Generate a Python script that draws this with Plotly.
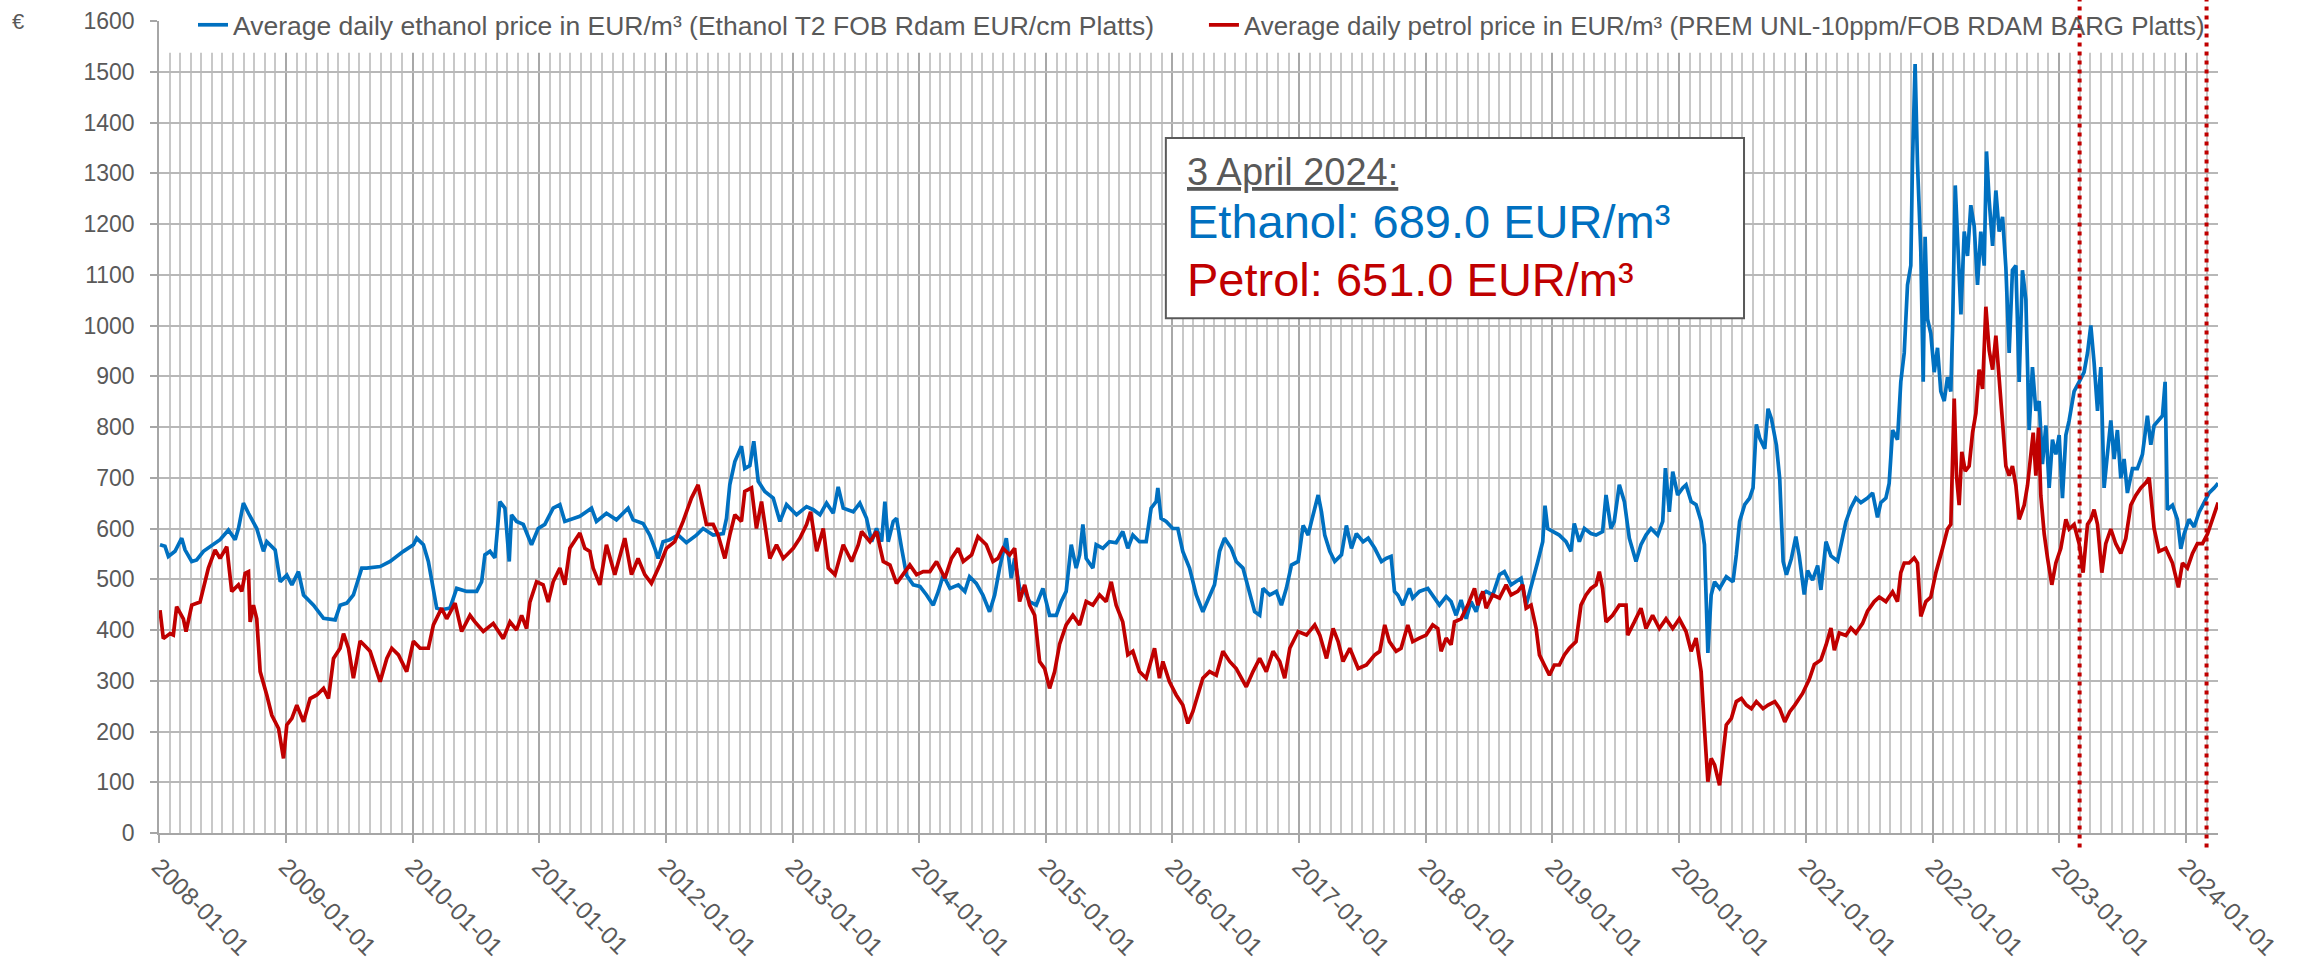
import pandas as pd
import plotly.graph_objects as go

# ---------------- data ----------------
# decimal years (e.g. 2021.862) and EUR/m3 values
eth_year = [
2008.008,2008.047,2008.074,2008.126,2008.179,2008.205,2008.258,2008.297,2008.350,2008.429,2008.481,2008.547,
2008.600,2008.626,2008.665,2008.705,2008.770,2008.823,2008.849,2008.915,2008.955,2009.007,2009.047,2009.099,
2009.139,2009.218,2009.297,2009.389,2009.428,2009.481,2009.533,2009.599,2009.638,2009.744,2009.823,2009.928,
2010.007,2010.033,2010.086,2010.125,2010.165,2010.191,2010.230,2010.296,2010.349,2010.428,2010.507,2010.546,
2010.572,2010.612,2010.651,2010.690,2010.730,2010.764,2010.782,2010.822,2010.875,2010.940,2010.993,2011.045,
2011.111,2011.164,2011.203,2011.269,2011.322,2011.414,2011.453,2011.532,2011.611,2011.703,2011.743,2011.821,
2011.874,2011.914,2011.940,2011.979,2012.032,2012.098,2012.163,2012.242,2012.295,2012.374,2012.453,2012.479,
2012.505,2012.545,2012.597,2012.623,2012.663,2012.694,2012.729,2012.781,2012.847,2012.900,2012.952,2013.031,
2013.110,2013.163,2013.216,2013.268,2013.321,2013.360,2013.400,2013.479,2013.531,2013.584,2013.624,2013.663,
2013.703,2013.729,2013.755,2013.795,2013.821,2013.861,2013.900,2013.953,2014.006,2014.058,2014.111,2014.151,
2014.190,2014.243,2014.309,2014.361,2014.398,2014.451,2014.503,2014.556,2014.596,2014.635,2014.688,2014.727,
2014.754,2014.793,2014.833,2014.872,2014.925,2014.977,2015.030,2015.083,2015.122,2015.161,2015.201,2015.240,
2015.267,2015.293,2015.319,2015.372,2015.398,2015.451,2015.503,2015.556,2015.608,2015.648,2015.688,2015.740,
2015.793,2015.832,2015.872,2015.885,2015.911,2015.951,2016.003,2016.043,2016.082,2016.135,2016.188,2016.240,
2016.293,2016.332,2016.372,2016.411,2016.464,2016.503,2016.556,2016.609,2016.648,2016.688,2016.714,2016.767,
2016.819,2016.859,2016.898,2016.938,2016.991,2017.030,2017.070,2017.096,2017.149,2017.175,2017.201,2017.241,
2017.280,2017.333,2017.372,2017.412,2017.451,2017.504,2017.544,2017.596,2017.649,2017.686,2017.725,2017.752,
2017.778,2017.817,2017.870,2017.896,2017.949,2018.015,2018.054,2018.107,2018.160,2018.199,2018.239,2018.278,
2018.318,2018.357,2018.397,2018.436,2018.476,2018.528,2018.581,2018.620,2018.673,2018.713,2018.752,2018.792,
2018.844,2018.884,2018.923,2018.941,2018.962,2019.002,2019.054,2019.107,2019.146,2019.172,2019.212,2019.252,
2019.304,2019.344,2019.396,2019.423,2019.462,2019.488,2019.528,2019.568,2019.607,2019.660,2019.699,2019.739,
2019.778,2019.831,2019.871,2019.892,2019.923,2019.950,2019.989,2020.029,2020.055,2020.095,2020.134,2020.174,
2020.200,2020.227,2020.253,2020.280,2020.319,2020.372,2020.425,2020.451,2020.477,2020.517,2020.556,2020.583,
2020.609,2020.635,2020.675,2020.701,2020.728,2020.767,2020.793,2020.820,2020.846,2020.885,2020.920,2020.947,
2020.986,2021.013,2021.052,2021.092,2021.118,2021.158,2021.197,2021.250,2021.289,2021.315,2021.355,2021.394,
2021.434,2021.486,2021.526,2021.565,2021.591,2021.631,2021.657,2021.684,2021.723,2021.749,2021.776,2021.802,
2021.828,2021.841,2021.862,2021.881,2021.907,2021.926,2021.941,2021.960,2021.986,2022.013,2022.039,2022.065,
2022.092,2022.118,2022.144,2022.158,2022.179,2022.197,2022.224,2022.250,2022.276,2022.302,2022.329,2022.355,
2022.381,2022.408,2022.426,2022.447,2022.474,2022.500,2022.526,2022.553,2022.579,2022.605,2022.631,2022.658,
2022.684,2022.710,2022.737,2022.763,2022.789,2022.816,2022.842,2022.868,2022.895,2022.921,2022.947,2022.974,
2023.000,2023.026,2023.053,2023.079,2023.118,2023.158,2023.197,2023.224,2023.250,2023.276,2023.303,2023.329,
2023.355,2023.381,2023.408,2023.434,2023.460,2023.487,2023.513,2023.539,2023.579,2023.618,2023.658,2023.697,
2023.724,2023.750,2023.789,2023.816,2023.837,2023.855,2023.895,2023.934,2023.961,2023.987,2024.026,2024.066,
2024.105,2024.145,2024.184,2024.224,2024.255]
eth_price = [
568,565,545,555,581,558,535,538,555,568,578,597,
578,600,650,630,600,555,574,558,495,508,489,515,
469,449,423,420,449,453,469,522,522,525,535,555,
568,581,568,535,482,443,440,443,482,476,476,495,
548,555,542,653,640,535,627,614,608,568,600,608,
640,647,614,620,624,640,614,630,617,640,617,610,
587,561,541,574,578,587,572,587,600,587,590,620,
686,732,762,718,724,772,693,673,660,614,647,627,
643,637,627,650,630,682,640,633,650,620,574,600,
574,653,574,614,620,561,508,489,486,469,449,476,
508,482,489,476,505,492,469,436,469,522,581,502,
541,482,476,456,449,482,429,429,456,476,568,522,
548,608,541,522,568,561,574,572,594,561,587,574,
574,640,653,680,620,614,600,600,555,522,469,436,
469,489,555,581,561,535,522,469,436,429,482,469,
476,449,482,528,535,606,587,614,666,633,587,555,
535,548,606,561,590,574,581,561,535,541,545,476,
469,449,482,463,476,482,469,449,466,456,429,459,
422,456,436,469,476,469,509,515,489,495,502,449,
495,535,574,645,600,594,587,574,555,610,574,600,
590,587,594,666,600,614,686,653,581,535,568,587,
600,587,614,719,633,712,666,680,686,653,647,614,
568,355,469,495,482,505,495,548,614,647,660,680,
805,778,757,836,816,764,698,535,509,541,584,546,
470,517,498,527,479,574,546,536,584,613,641,660,
651,660,670,622,651,660,689,794,775,889,946,1080,
1118,1318,1515,1318,1146,889,1175,1013,984,908,956,870,
851,898,870,994,1276,1157,1022,1185,1137,1237,1195,1080,
1185,1118,1343,1247,1157,1266,1185,1214,1114,946,1109,1118,
889,1109,1051,794,918,832,851,727,803,680,775,746,
784,660,784,813,870,889,908,946,1000,927,832,918,
680,746,813,737,794,699,737,670,718,718,746,822,
765,803,813,822,889,637,646,618,560,589,618,603,
632,651,670,680,689]

pet_year = [
2008.008,2008.034,2008.087,2008.113,2008.139,2008.192,2008.213,2008.258,2008.323,2008.350,2008.389,2008.442,
2008.481,2008.534,2008.573,2008.626,2008.652,2008.679,2008.705,2008.718,2008.744,2008.770,2008.797,2008.849,
2008.889,2008.942,2008.981,2009.007,2009.047,2009.086,2009.139,2009.191,2009.244,2009.297,2009.336,2009.376,
2009.428,2009.455,2009.494,2009.533,2009.586,2009.612,2009.665,2009.744,2009.797,2009.836,2009.889,2009.954,
2010.007,2010.060,2010.125,2010.165,2010.230,2010.270,2010.336,2010.388,2010.454,2010.493,2010.559,2010.638,
2010.717,2010.770,2010.822,2010.862,2010.901,2010.927,2010.980,2011.032,2011.072,2011.111,2011.164,2011.203,
2011.243,2011.322,2011.361,2011.401,2011.427,2011.480,2011.532,2011.598,2011.677,2011.730,2011.782,2011.835,
2011.887,2011.953,2012.006,2012.071,2012.137,2012.203,2012.255,2012.321,2012.374,2012.413,2012.466,2012.505,
2012.545,2012.597,2012.623,2012.676,2012.715,2012.755,2012.781,2012.821,2012.873,2012.926,2013.005,2013.058,
2013.110,2013.142,2013.190,2013.242,2013.282,2013.335,2013.400,2013.466,2013.519,2013.545,2013.611,2013.663,
2013.716,2013.769,2013.821,2013.874,2013.926,2013.979,2014.032,2014.084,2014.137,2014.203,2014.255,2014.308,
2014.348,2014.414,2014.464,2014.530,2014.583,2014.622,2014.661,2014.714,2014.754,2014.793,2014.833,2014.872,
2014.912,2014.951,2014.991,2015.030,2015.070,2015.109,2015.161,2015.214,2015.267,2015.319,2015.372,2015.425,
2015.477,2015.517,2015.556,2015.608,2015.648,2015.688,2015.740,2015.793,2015.859,2015.898,2015.925,2015.977,
2016.030,2016.082,2016.122,2016.161,2016.201,2016.240,2016.293,2016.346,2016.398,2016.451,2016.503,2016.582,
2016.635,2016.688,2016.740,2016.793,2016.846,2016.885,2016.925,2016.991,2017.057,2017.122,2017.162,2017.215,
2017.267,2017.307,2017.346,2017.399,2017.465,2017.530,2017.596,2017.636,2017.675,2017.712,2017.765,2017.804,
2017.857,2017.896,2017.949,2018.002,2018.054,2018.094,2018.120,2018.160,2018.199,2018.226,2018.278,2018.331,
2018.384,2018.410,2018.450,2018.476,2018.528,2018.581,2018.634,2018.673,2018.726,2018.765,2018.792,2018.831,
2018.871,2018.897,2018.936,2018.976,2019.015,2019.054,2019.094,2019.133,2019.186,2019.225,2019.265,2019.304,
2019.344,2019.370,2019.396,2019.423,2019.475,2019.528,2019.581,2019.594,2019.647,2019.699,2019.739,2019.791,
2019.844,2019.897,2019.950,2020.002,2020.055,2020.095,2020.134,2020.174,2020.200,2020.227,2020.253,2020.280,
2020.319,2020.346,2020.372,2020.412,2020.451,2020.491,2020.530,2020.570,2020.609,2020.662,2020.701,2020.754,
2020.793,2020.833,2020.872,2020.912,2020.951,2020.973,2021.026,2021.066,2021.118,2021.158,2021.197,2021.224,
2021.263,2021.315,2021.355,2021.394,2021.447,2021.486,2021.539,2021.579,2021.631,2021.684,2021.723,2021.749,
2021.776,2021.815,2021.855,2021.881,2021.907,2021.947,2021.986,2022.026,2022.079,2022.118,2022.144,2022.171,
2022.189,2022.210,2022.231,2022.258,2022.289,2022.316,2022.342,2022.368,2022.395,2022.421,2022.447,2022.474,
2022.500,2022.526,2022.553,2022.579,2022.605,2022.631,2022.658,2022.684,2022.724,2022.750,2022.776,2022.795,
2022.816,2022.837,2022.855,2022.882,2022.908,2022.942,2022.974,2023.013,2023.053,2023.079,2023.118,2023.158,
2023.189,2023.224,2023.250,2023.276,2023.303,2023.337,2023.368,2023.408,2023.447,2023.487,2023.526,2023.566,
2023.605,2023.645,2023.684,2023.711,2023.750,2023.789,2023.842,2023.895,2023.942,2023.974,2024.013,2024.053,
2024.092,2024.132,2024.171,2024.211,2024.242,2024.255]
pet_price = [
439,383,393,390,446,422,397,449,455,482,522,558,
541,564,476,489,476,512,515,416,449,422,318,272,
232,206,147,213,226,252,219,265,272,285,265,344,
364,393,364,305,378,372,358,298,344,364,351,318,
378,364,364,410,443,422,453,397,429,416,397,413,
383,416,400,429,403,455,495,489,455,495,522,489,
561,591,561,555,522,489,568,509,581,509,541,509,
492,528,561,574,614,660,686,608,608,587,541,587,
627,614,673,680,600,653,608,541,568,541,561,581,
608,633,555,600,522,509,568,535,568,594,574,594,
535,528,492,509,528,509,515,515,535,502,541,561,
535,548,584,568,535,541,561,548,561,456,489,449,
429,338,324,285,318,372,410,429,410,456,449,469,
456,495,449,416,351,358,318,305,364,305,338,298,
272,252,216,239,272,305,318,311,358,338,324,288,
318,344,318,358,338,305,364,397,390,410,390,344,
403,377,338,364,324,331,351,358,410,377,358,364,
410,377,384,390,410,403,358,384,371,416,422,449,
482,449,476,443,469,463,489,469,476,489,443,449,
403,351,331,311,331,331,351,364,377,449,469,482,
489,515,482,416,429,449,449,390,416,443,403,429,
403,422,403,422,397,358,384,318,206,101,147,134,
94,160,213,226,259,265,252,245,259,245,252,259,
245,219,239,252,265,275,303,332,341,370,404,360,
394,389,404,394,413,437,456,465,456,475,456,513,
532,532,542,532,427,456,465,513,561,599,608,856,
704,646,751,713,723,789,827,913,875,1037,951,913,
980,904,808,723,704,723,685,618,646,685,751,789,
704,799,665,589,542,489,532,561,618,599,608,570,
513,608,618,637,608,513,570,599,570,551,580,646,
665,680,690,700,600,555,561,532,484,532,522,551,
570,570,589,618,646,651]

marker_dates = ["2023-03-01", "2024-03-01"]   # red dotted reference lines
as_of_label = "3 April 2024:"

eth_name = "Average daily ethanol price in EUR/m³ (Ethanol T2 FOB Rdam EUR/cm Platts)"
pet_name = "Average daily petrol price in EUR/m³ (PREM UNL-10ppm/FOB RDAM BARG Platts)"

# ---------------- helpers ----------------
def dec_year_to_ts(y):
    yr = int(y)
    start = pd.Timestamp(yr, 1, 1)
    end = pd.Timestamp(yr + 1, 1, 1)
    return start + (end - start) * (y - yr)

eth_dates = [dec_year_to_ts(v) for v in eth_year]
pet_dates = [dec_year_to_ts(v) for v in pet_year]

BLUE = "#0070C0"
RED = "#C00000"
GREY_TXT = "#595959"
FONT = "Liberation Sans, Arial, sans-serif"

fig = go.Figure()
fig.add_trace(go.Scatter(x=eth_dates, y=eth_price, mode="lines", name=eth_name,
                         line=dict(color=BLUE, width=3.7), legend="legend"))
fig.add_trace(go.Scatter(x=pet_dates, y=pet_price, mode="lines", name=pet_name,
                         line=dict(color=RED, width=3.7), legend="legend2"))

legend_common = dict(orientation="h", yanchor="middle", y=0.995, xanchor="left",
                     bgcolor="rgba(0,0,0,0)", itemwidth=30)
fig.update_layout(
    width=2308, height=969,
    margin=dict(l=159, r=90, t=21, b=136, autoexpand=False),
    paper_bgcolor="white", plot_bgcolor="white",
    font=dict(family=FONT, color=GREY_TXT),
    legend=dict(x=0.0165, font=dict(family=FONT, size=26.5, color=GREY_TXT), **legend_common),
    legend2=dict(x=0.5075, font=dict(family=FONT, size=25.9, color=GREY_TXT), **legend_common),
    xaxis=dict(
        type="date", range=["2008-01-01", "2024-04-03"],
        tick0="2008-01-01", dtick="M12", tickformat="%Y-%m-%d", tickangle=45,
        ticks="outside", ticklen=8, tickwidth=1.5, tickcolor="#A6A6A6",
        tickfont=dict(family=FONT, size=24.5, color=GREY_TXT),
        showgrid=True, gridcolor="#A8A8A8", gridwidth=1.5,
        minor=dict(dtick="M1", tick0="2008-01-01", showgrid=True, gridcolor="#C8C8C8", gridwidth=1.5),
        showline=True, linecolor="#A6A6A6", linewidth=1.5, zeroline=False,
    ),
    yaxis=dict(
        range=[0, 1600], dtick=100, tick0=0,
        ticks="outside", ticklen=7, tickwidth=1.5, tickcolor="#A6A6A6",
        ticklabelstandoff=11,
        tickfont=dict(family=FONT, size=23, color=GREY_TXT),
        showgrid=True, gridcolor="#B8B8B8", gridwidth=1.5,
        showline=True, linecolor="#A6A6A6", linewidth=1.5, zeroline=False,
    ),
    showlegend=True,
)

# white band under the legend (legend sits over the top of the plot area)
fig.add_shape(type="rect", xref="paper", yref="paper", x0=0, x1=1, y0=0.961, y1=1.0,
              fillcolor="white", line=dict(width=0), layer="above")

# red dotted markers
for d in marker_dates:
    fig.add_shape(type="line", xref="x", yref="paper", x0=d, x1=d, y0=-0.018, y1=1.03,
                  line=dict(color=RED, width=4, dash="4px,5px"), layer="above")

# annotation box
fig.add_shape(type="rect", xref="paper", yref="paper", x0=0.489, x1=0.7698, y0=0.634, y1=0.856,
              fillcolor="white", line=dict(color=GREY_TXT, width=2), layer="above")
fig.add_annotation(xref="paper", yref="paper", x=0.4983, y=0.814, xanchor="left", yanchor="middle",
                   text=f"<u>{as_of_label}</u>", showarrow=False,
                   font=dict(family=FONT, size=38, color=GREY_TXT))
fig.add_annotation(xref="paper", yref="paper", x=0.4983, y=0.7525, xanchor="left", yanchor="middle",
                   text=f"Ethanol: {eth_price[-1]:.1f} EUR/m³", showarrow=False,
                   font=dict(family=FONT, size=47, color=BLUE))
fig.add_annotation(xref="paper", yref="paper", x=0.4983, y=0.682, xanchor="left", yanchor="middle",
                   text=f"Petrol: {pet_price[-1]:.1f} EUR/m³", showarrow=False,
                   font=dict(family=FONT, size=47, color=RED))

# euro sign as y-axis unit
fig.add_annotation(xref="paper", yref="paper", x=-0.0685, y=0.999, xanchor="center", yanchor="middle",
                   text="€", showarrow=False, font=dict(family=FONT, size=22, color=GREY_TXT))

fig.write_html("out.html", config={"displayModeBar": False},
               post_script="document.body.style.margin='0';document.body.style.overflow='hidden';")
